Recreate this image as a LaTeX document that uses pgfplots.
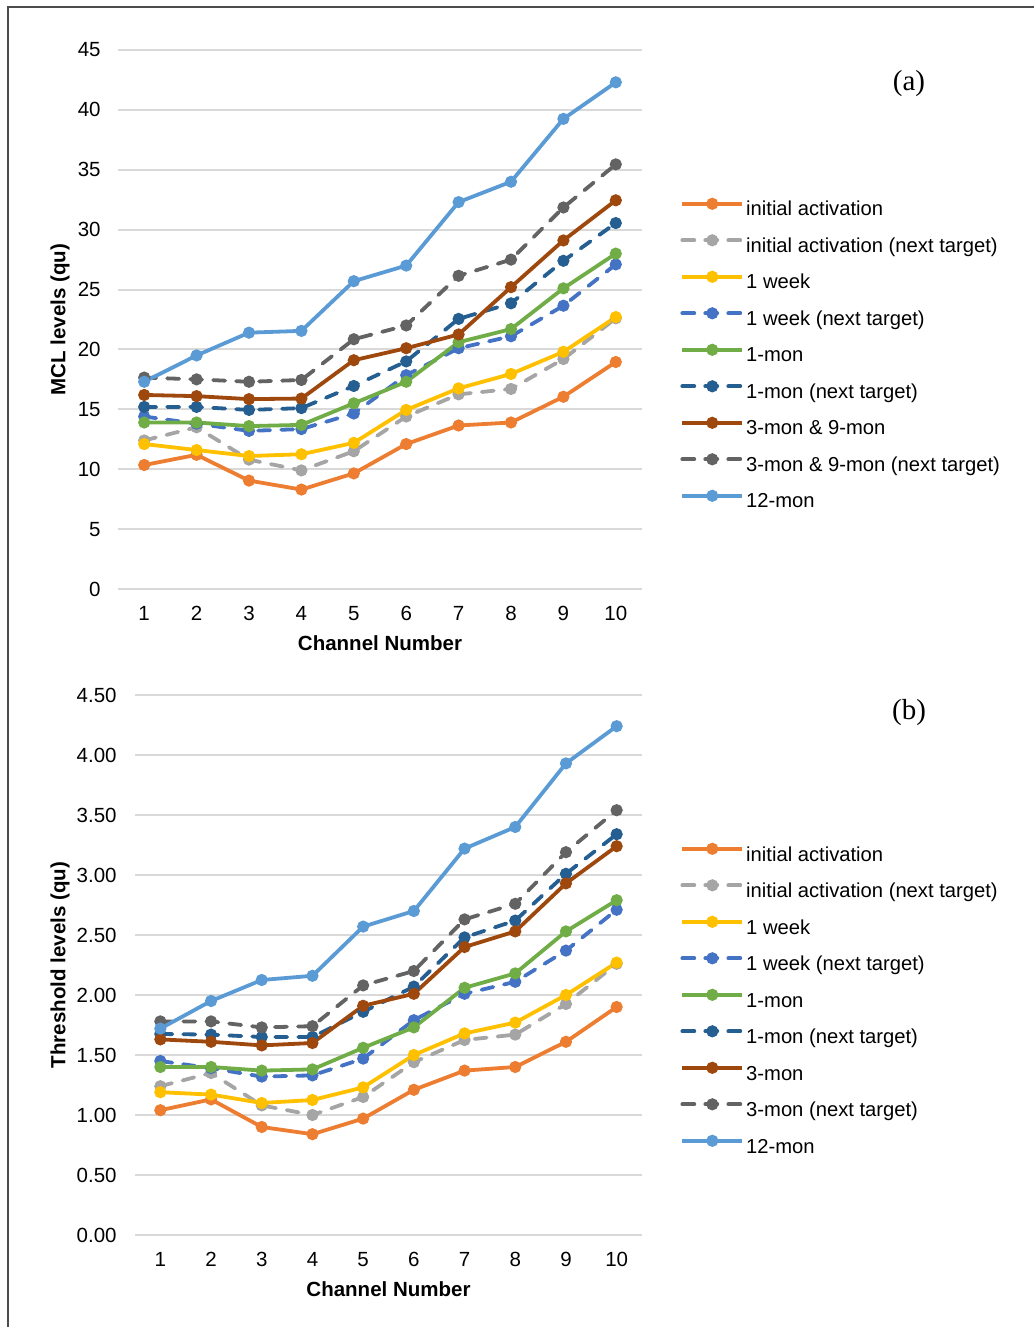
\documentclass[border=0pt]{standalone}
\usepackage{fontspec}
\setmainfont{Liberation Sans}
\newfontfamily\seriffont{Liberation Serif}
\usepackage{pgfplots}
\usepackage{pgfplotstable}
\pgfplotsset{compat=1.18}

\definecolor{cOrange}{HTML}{ED7D31}
\definecolor{cLGray}{HTML}{A5A5A5}
\definecolor{cYellow}{HTML}{FFC000}
\definecolor{cBlue}{HTML}{4472C4}
\definecolor{cGreen}{HTML}{70AD47}
\definecolor{cDBlue}{HTML}{255E91}
\definecolor{cBrown}{HTML}{9E480E}
\definecolor{cDGray}{HTML}{636363}
\definecolor{cLBlue}{HTML}{5B9BD5}
\definecolor{gridgray}{HTML}{D9D9D9}

% MCL levels (qu)
\pgfplotstableread{
ch  ia     iant   wk     wknt   mo     mont   m3     m3nt   m12
1   10.35  12.40  12.10  14.40  13.90  15.20  16.20  17.65  17.30
2   11.20  13.50  11.60  13.80  13.90  15.20  16.10  17.50  19.50
3    9.05  10.80  11.10  13.20  13.60  14.95  15.85  17.30  21.40
4    8.30   9.90  11.25  13.35  13.70  15.10  15.90  17.45  21.55
5    9.65  11.50  12.20  14.65  15.50  16.95  19.10  20.85  25.70
6   12.10  14.40  14.95  17.85  17.30  19.00  20.10  22.00  27.00
7   13.65  16.25  16.75  20.10  20.60  22.55  21.25  26.15  32.30
8   13.90  16.70  17.95  21.10  21.70  23.85  25.20  27.50  34.00
9   16.05  19.20  19.80  23.65  25.10  27.40  29.10  31.85  39.25
10  18.95  22.60  22.70  27.10  28.00  30.55  32.45  35.45  42.30
}\mcl

% Threshold levels (qu)
\pgfplotstableread{
ch  ia     iant   wk     wknt   mo     mont   m3     m3nt   m12
1   1.04   1.24   1.19   1.45   1.40   1.675  1.63   1.78   1.72
2   1.13   1.35   1.17   1.39   1.40   1.67   1.61   1.78   1.95
3   0.90   1.08   1.10   1.32   1.37   1.65   1.58   1.73   2.125
4   0.84   1.00   1.125  1.33   1.38   1.65   1.60   1.74   2.16
5   0.97   1.15   1.23   1.47   1.56   1.86   1.91   2.08   2.57
6   1.21   1.44   1.50   1.79   1.73   2.07   2.01   2.20   2.70
7   1.37   1.625  1.68   2.01   2.06   2.48   2.40   2.63   3.22
8   1.40   1.67   1.77   2.11   2.18   2.62   2.53   2.76   3.40
9   1.61   1.925  2.00   2.37   2.53   3.01   2.93   3.19   3.93
10  1.90   2.26   2.27   2.71   2.79   3.34   3.24   3.54   4.24
}\thr

\newcommand\lblfont{\fontsize{10.25}{12}\selectfont}
\newcommand\legfont{\fontsize{10.1}{12}\selectfont}

\pgfplotsset{
  excel/.style={
    scale only axis,
    xmin=0.5, xmax=10.5, ymin=0,
    xtick={1,...,10},
    axis line style={draw=none},
    major tick length=0pt,
    ymajorgrids,
    grid style={color=gridgray, line width=1pt},
    tick label style={font=\lblfont, inner sep=0pt},
    xticklabel style={anchor=north, yshift=-8.5pt},
    /pgf/number format/assume math mode=true,
    label style={font=\lblfont\bfseries},
    clip=false,
    legend cell align=left,
    legend style={draw=none, fill=none, inner sep=0pt, anchor=north west,
      row sep=6.9pt, column sep=1pt, font=\legfont,
      nodes={inner sep=0pt, text height=7.5pt, text depth=2.5pt}},
    legend image code/.code={\draw[mark repeat=2,mark phase=2]
      plot coordinates {(0pt,3.6pt)(15pt,3.6pt)(30pt,3.6pt)};},
    every axis plot/.append style={line width=1.9pt, mark=*, mark size=2.75pt},
  },
  ser/.style={color=#1, mark options={solid, fill=#1, draw=#1, line width=0.6pt}},
  dsh/.style={dash pattern=on 6pt off 5.5pt, line cap=round},
}

\begin{document}
\begin{tikzpicture}
\path[use as bounding box] (0,0) rectangle (517pt,663.5pt);
\draw[line width=1pt, color=black!70] (4pt,0pt) -- (4pt,660pt) -- (517pt,660pt);

% (a) MCL levels
\begin{axis}[excel,
    at={(59pt,369pt)}, anchor=south west,
    width=262pt, height=269.5pt,
    ymax=45, ytick={0,5,...,45},
    yticklabel style={anchor=east, xshift=-8.5pt},
    xlabel={Channel Number},
    xlabel style={at={(axis description cs:0.5,-0.1002)}, anchor=center},
    ylabel={MCL levels (qu)},
    ylabel style={at={(axis description cs:-0.1107,0.5)}, anchor=center, rotate=0},
    legend style={at={(1.0725,0.7256)}},
]
\addplot[ser=cOrange] table[x=ch, y=ia] {\mcl};
\addlegendentry{initial activation}
\addplot[ser=cLGray, dsh] table[x=ch, y=iant] {\mcl};
\addlegendentry{initial activation (next target)}
\addplot[ser=cYellow] table[x=ch, y=wk] {\mcl};
\addlegendentry{1 week}
\addplot[ser=cBlue, dsh] table[x=ch, y=wknt] {\mcl};
\addlegendentry{1 week (next target)}
\addplot[ser=cGreen] table[x=ch, y=mo] {\mcl};
\addlegendentry{1-mon}
\addplot[ser=cDBlue, dsh] table[x=ch, y=mont] {\mcl};
\addlegendentry{1-mon (next target)}
\addplot[ser=cBrown] table[x=ch, y=m3] {\mcl};
\addlegendentry{3-mon \& 9-mon}
\addplot[ser=cDGray, dsh] table[x=ch, y=m3nt] {\mcl};
\addlegendentry{3-mon \& 9-mon (next target)}
\addplot[ser=cLBlue] table[x=ch, y=m12] {\mcl};
\addlegendentry{12-mon}
\end{axis}

% (b) Threshold levels
\begin{axis}[excel,
    at={(67.5pt,46pt)}, anchor=south west,
    width=253.5pt, height=270pt,
    ymax=4.5, ytick={0,0.5,...,4.5},
    yticklabel style={anchor=east, xshift=-9pt,
      /pgf/number format/.cd, fixed, fixed zerofill, precision=2},
    xlabel={Channel Number},
    xlabel style={at={(axis description cs:0.5,-0.1)}, anchor=center},
    ylabel={Threshold levels (qu)},
    ylabel style={at={(axis description cs:-0.148,0.5)}, anchor=center, rotate=0},
    legend style={at={(1.075,0.7261)}},
]
\addplot[ser=cOrange] table[x=ch, y=ia] {\thr};
\addlegendentry{initial activation}
\addplot[ser=cLGray, dsh] table[x=ch, y=iant] {\thr};
\addlegendentry{initial activation (next target)}
\addplot[ser=cYellow] table[x=ch, y=wk] {\thr};
\addlegendentry{1 week}
\addplot[ser=cBlue, dsh] table[x=ch, y=wknt] {\thr};
\addlegendentry{1 week (next target)}
\addplot[ser=cGreen] table[x=ch, y=mo] {\thr};
\addlegendentry{1-mon}
\addplot[ser=cDBlue, dsh] table[x=ch, y=mont] {\thr};
\addlegendentry{1-mon (next target)}
\addplot[ser=cBrown] table[x=ch, y=m3] {\thr};
\addlegendentry{3-mon}
\addplot[ser=cDGray, dsh] table[x=ch, y=m3nt] {\thr};
\addlegendentry{3-mon (next target)}
\addplot[ser=cLBlue] table[x=ch, y=m12] {\thr};
\addlegendentry{12-mon}
\end{axis}

\node[font=\seriffont\fontsize{14.5}{16}\selectfont] at (454.5pt,621.5pt) {(a)};
\node[font=\seriffont\fontsize{14.5}{16}\selectfont] at (454.5pt,307pt) {(b)};
\end{tikzpicture}
\end{document}
